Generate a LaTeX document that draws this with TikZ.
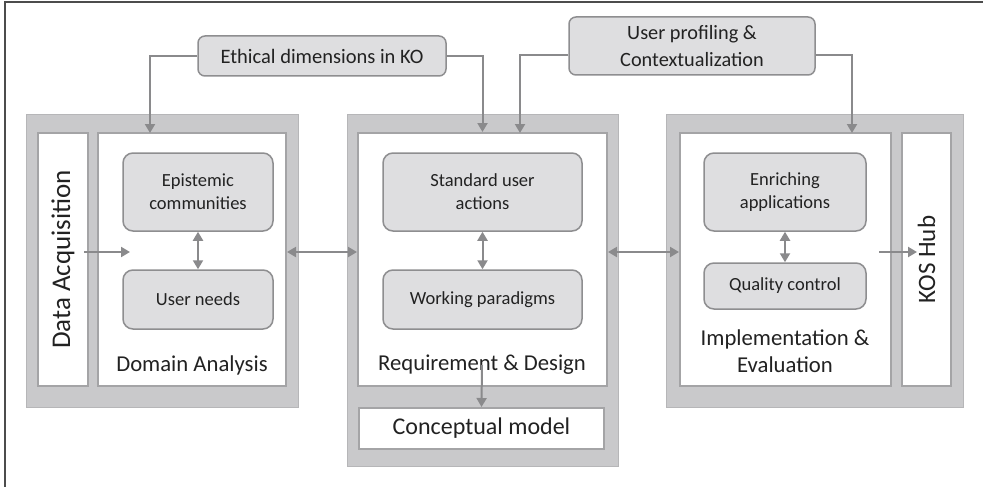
\documentclass[tikz,border=0pt]{standalone}
\usepackage{fontspec}
\setmainfont{Carlito}
\usetikzlibrary{arrows.meta,positioning}

\definecolor{panelgray}{HTML}{C9C9CB}
\definecolor{paneledge}{HTML}{B6B6B8}
\definecolor{whiteedge}{HTML}{A4A4A6}
\definecolor{boxfill}{HTML}{DEDEE0}
\definecolor{boxedge}{HTML}{8E8E90}
\definecolor{arrowgray}{HTML}{8A8A8C}
\definecolor{textgray}{HTML}{222222}

\tikzset{
  panel/.style={fill=panelgray, draw=paneledge, line width=1pt},
  whitebox/.style={draw=whiteedge, fill=white, line width=2pt, inner sep=0pt, text=textgray},
  topic/.style={rounded corners=10pt, draw=boxedge, fill=boxfill, line width=1.5pt,
    align=center, inner sep=0pt, text=textgray, font=\fontsize{18.5}{23}\selectfont},
  caption/.style={align=center, text=textgray, font=\fontsize{22.7}{27}\selectfont},
  link/.style={draw=arrowgray, line width=2pt, -{Triangle[length=9pt,width=10pt]}},
  dlink/.style={link, {Triangle[length=9pt,width=10pt]}-{Triangle[length=9pt,width=10pt]}},
}

\begin{document}
\begin{tikzpicture}[x=1pt,y=-1pt]

    \useasboundingbox (0,0) rectangle (983,487);
    \draw[line width=1.2pt, black!70] (5,487) -- (5,2) -- (983,2);

    % outer panels
    \filldraw[panel] (26,114) rectangle (298,407);
    \filldraw[panel] (347,114) rectangle (618,466);
    \filldraw[panel] (666,114) rectangle (963,407);

    % domain analysis
    \node[whitebox, minimum width=50pt, minimum height=253pt] (daq) at (63,259.5)
        {\rotatebox{90}{\fontsize{27}{32}\selectfont Data Acquisition}};
    \node[whitebox, minimum width=188pt, minimum height=253pt] (da) at (192,259.5) {};
    \node[topic, minimum width=150pt, minimum height=78pt] (epi) at (198,192) {Epistemic\\communities};
    \node[topic, minimum width=150pt, minimum height=59pt] (need) at (198,299.5) {User needs};
    \node[caption] (dalab) at (192,365) {Domain Analysis};

    % requirement and design
    \node[whitebox, minimum width=249pt, minimum height=253pt] (rd) at (482.5,259.5) {};
    \node[whitebox, minimum width=245pt, minimum height=41pt, font=\fontsize{24}{28}\selectfont] (cm) at (481.5,428.5) {Conceptual model};
    \node[topic, minimum width=199pt, minimum height=78pt] (sua) at (482.5,192) {Standard user\\actions};
    \node[topic, minimum width=199pt, minimum height=59pt] (wp) at (482.5,299.5) {Working paradigms};
    \node[caption] (rdlab) at (482,365) {Requirement \& Design};

    % implementation and evaluation
    \node[whitebox, minimum width=211pt, minimum height=253pt] (ie) at (785.5,259.5) {};
    \node[whitebox, minimum width=49pt, minimum height=253pt] (kos) at (926.5,259.5)
        {\rotatebox{90}{\fontsize{25}{30}\selectfont KOS Hub}};
    \node[topic, minimum width=162pt, minimum height=78pt] (enr) at (785,192) {Enriching\\applications};
    \node[topic, minimum width=162pt, minimum height=46pt] (qc) at (785,286) {Quality control};
    \node[caption] (ielab) at (785,351) {Implementation \&\\Evaluation};

    % cross-cutting concerns
    \node[topic, minimum width=248pt, minimum height=40pt, rounded corners=7pt, font=\fontsize{20.5}{25}\selectfont] (eth) at (322,56) {Ethical dimensions in KO};
    \node[topic, minimum width=246pt, minimum height=58pt, rounded corners=7pt, font=\fontsize{20.3}{27}\selectfont] (upc) at (692,46) {User profiling \&\\Contextualization};

    \coordinate (ethin) at (150,133);
    \coordinate (upcin) at (520,133);
    \coordinate (iein) at (852,133);
    \coordinate (daqin) at (130,252);
    \coordinate (kosin) at (917,252);

    % connectors
    \draw[link] (eth.west) -| (ethin);
    \draw[link] (eth.east) -| (rd.north);
    \draw[link] ([yshift=-9pt]upc.west) -| (upcin);
    \draw[link] ([yshift=-9pt]upc.east) -| (iein);
    \draw[dlink] (epi) -- (need);
    \draw[dlink] (sua) -- (wp);
    \draw[dlink] (enr) -- (qc);
    \draw[dlink] ([yshift=7.5pt]da.east) -- ([yshift=7.5pt]rd.west);
    \draw[dlink] ([yshift=7.5pt]rd.east) -- ([yshift=7.5pt]ie.west);
    \draw[link] ([shift={(-5pt,7.5pt)}]daq.east) -- (daqin);
    \draw[link] ([shift={(-13pt,7.5pt)}]ie.east) -- (kosin);
    \draw[link] (rdlab.center) -- (cm.north);

\end{tikzpicture}
\end{document}
